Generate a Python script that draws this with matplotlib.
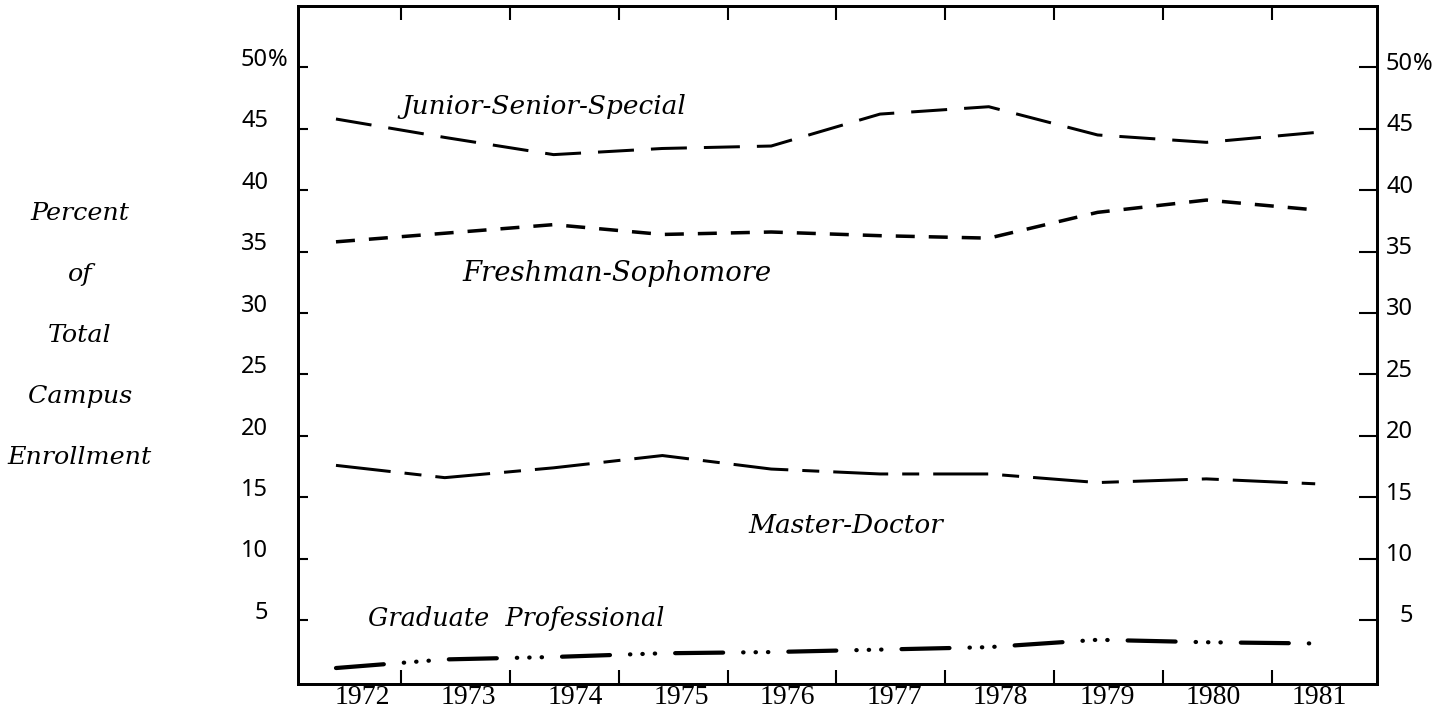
import matplotlib
matplotlib.use("Agg")
import matplotlib.pyplot as plt

plt.rcParams['lines.scale_dashes'] = False

years = [1972, 1973, 1974, 1975, 1976, 1977, 1978, 1979, 1980, 1981]
junior_senior_special = [45.8, 44.3, 42.9, 43.4, 43.6, 46.2, 46.8, 44.5, 43.9, 44.7]
freshman_sophomore = [35.8, 36.5, 37.2, 36.4, 36.6, 36.3, 36.1, 38.2, 39.2, 38.4]
master_doctor = [17.6, 16.6, 17.4, 18.4, 17.3, 16.9, 16.9, 16.2, 16.5, 16.1]
graduate_professional = [1.1, 1.8, 2.0, 2.3, 2.4, 2.6, 2.8, 3.4, 3.2, 3.1]

y_ticks = [5, 10, 15, 20, 25, 30, 35, 40, 45, 50]
side_label = ['Percent', 'of', 'Total', 'Campus', 'Enrollment']

px = 0.72  # points per pixel at dpi 100

fig = plt.figure(figsize=(14.43, 7.12), dpi=100)
ax = fig.add_axes([298 / 1443, 28 / 712, 1079 / 1443, 678 / 712])

ax.plot(years, junior_senior_special, color='black', lw=3 * px,
        dashes=(36 * px, 17 * px), dash_capstyle='butt')
ax.plot(years, freshman_sophomore, color='black', lw=3.5 * px,
        dashes=(19 * px, 14 * px), dash_capstyle='butt')
ax.plot(years, master_doctor, color='black', lw=3 * px,
        dashes=(55 * px, 14 * px, 17 * px, 14 * px), dash_capstyle='butt')
ax.plot(years, graduate_professional, color='black', lw=4.2 * px,
        dashes=(48 * px, 20 * px, 0.4 * px, 12 * px, 0.4 * px, 12 * px, 0.4 * px, 20 * px),
        dash_capstyle='round')

ax.set_xlim(1971.651, 1981.568)
ax.set_ylim(-0.2, 55.0)

# tick marks sit between the years, year labels on minor ticks
ax.set_xticks([y + 0.6 for y in years[:-1]])
ax.set_xticklabels([])
ax.set_xticks([y + 0.24 - 0.022 * i for i, y in enumerate(years)], minor=True)
ax.set_xticklabels([str(y) for y in years], minor=True,
                   fontfamily='Liberation Serif', fontsize=20)
ax.tick_params(axis='x', which='major', direction='in', length=10, width=1.5,
               top=True, bottom=True)
ax.tick_params(axis='x', which='minor', length=0, pad=1)

ax.set_yticks(y_ticks)
ax.set_yticklabels([])
ax.tick_params(axis='y', which='major', direction='in', length=7, width=1.5,
               left=True, right=False)
ax2 = ax.twinx()
ax2.set_ylim(ax.get_ylim())
ax2.set_yticks(y_ticks)
ax2.set_yticklabels([])
ax2.tick_params(axis='y', direction='in', length=13, width=1.5)

for s in ax.spines.values():
    s.set_linewidth(2)
for s in ax2.spines.values():
    s.set_linewidth(2)

ytr = ax.get_yaxis_transform()
num_font = dict(fontfamily='Noto Sans', fontsize=17, color='black')
for v in y_ticks:
    ax.text(-0.0278, v + 0.6, str(v), transform=ytr, ha='right', va='center', **num_font)
    ax.text(1.0334, v + 0.3, str(v), transform=ytr, ha='right', va='center', **num_font)
ax.text(-0.0278, 50.6, '%', transform=ytr, ha='left', va='center', **num_font)
ax.text(1.0334, 50.3, '%', transform=ytr, ha='left', va='center', **num_font)

lab = dict(fontfamily='DejaVu Serif', style='italic', color='black',
           va='baseline', ha='left')
ax.text(1972.60, 46.2, 'Junior-Senior-Special', fontsize=19, **lab)
ax.text(1973.16, 32.6, 'Freshman-Sophomore', fontsize=19.8, **lab)
ax.text(1975.79, 12.1, 'Master-Doctor', fontsize=19, **lab)
ax.text(1972.29, 4.5, 'Graduate  Professional', fontsize=18.4, **lab)

for i, word in enumerate(side_label):
    fig.text(80 / 1443, 1 - (220 + 61 * i) / 712, word, ha='center', va='baseline',
             fontfamily='DejaVu Serif', style='italic', fontsize=18.3)

fig.savefig('out.png', dpi=100)
